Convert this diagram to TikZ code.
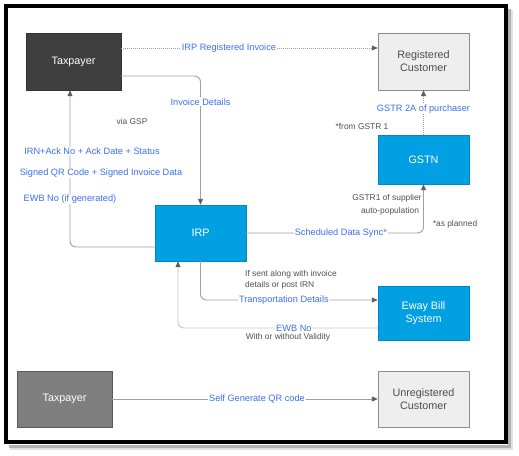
\documentclass[tikz,border=0pt]{standalone}
\usepackage{fontspec}
\setmainfont{Liberation Sans}
\usetikzlibrary{arrows.meta}
\definecolor{boxblue}{RGB}{0,160,227}
\definecolor{lblblue}{RGB}{60,110,240}
\definecolor{darkbox}{RGB}{63,63,63}
\definecolor{midbox}{RGB}{127,127,127}
\definecolor{lightbox}{RGB}{238,238,238}
\definecolor{linegray}{RGB}{160,160,160}
\definecolor{lightline}{RGB}{200,200,200}
\definecolor{tipgray}{RGB}{95,95,95}
\definecolor{notegray}{RGB}{80,80,80}
\begin{document}
\begin{tikzpicture}[x=1pt,y=-1pt,
  box/.style={rectangle, minimum width=91pt, inner sep=0pt, align=center,
    font=\fontsize{10.8}{13}\selectfont},
  bluebox/.style={box, fill=boxblue, draw=boxblue!85!black, text=white},
  greybox/.style={box, fill=lightbox, draw=black!45, text=black!70},
  darktp/.style={box, minimum width=95pt, fill=darkbox, draw=black!80, text=white},
  midtp/.style={box, minimum width=95pt, fill=midbox, draw=black!65, text=white},
  lbl/.style={font=\fontsize{9.2}{10.5}\selectfont, text=lblblue, fill=white, inner sep=1pt},
  note/.style={font=\fontsize{8.4}{10}\selectfont, text=notegray, inner sep=0pt},
  tip/.style={-{Triangle[length=6pt,width=5pt,color=tipgray]}},
  conn/.style={draw=linegray, line width=0.9pt, tip, rounded corners=6pt},
  dotconn/.style={draw=linegray, line width=0.8pt, tip, dash pattern=on 1pt off 1pt},
]
\useasboundingbox (0,0) rectangle (519,455);
% frame with shadow
\draw[line width=4pt, black!12] (511,10) -- (511,448) -- (10,448);
\draw[line width=3pt, black!30] (509,9) -- (509,446) -- (9,446);
\draw[line width=4pt, black, fill=white] (6,6) rectangle (506,442);

% boxes
\node[darktp, minimum height=57pt] (tp1) at (73.5,61.5) {Taxpayer};
\node[greybox, minimum height=57pt] (rc) at (423.5,61.5) {Registered\\Customer};
\node[bluebox, minimum height=49pt] (gstn) at (423.5,159.5) {GSTN};
\node[bluebox, minimum height=56pt] (irp) at (200.5,233) {IRP};
\node[bluebox, minimum height=54pt] (ewb) at (423.5,313) {Eway Bill\\System};
\node[midtp, minimum height=56pt] (tp2) at (64.5,399) {Taxpayer};
\node[greybox, minimum height=56pt] (uc) at (423.5,399) {Unregistered\\Customer};

% connectors
\draw[dotconn] ([yshift=13.5pt]tp1.east) -- ([yshift=13.5pt]rc.west)
  node[lbl, pos=0.42] (l1) {IRP Registered Invoice};
\draw[conn] ([yshift=-14.5pt]tp1.east) -| (irp.north)
  node[lbl, pos=0.6] (l2) {Invoice Details};
\draw[conn] ([yshift=-14pt]irp.west) -| ([xshift=-3.5pt]tp1.south);
\node[lbl] (l3) at (92,151) {IRN+Ack No + Ack Date + Status};
\node[lbl] (l4) at (101,173) {Signed QR Code + Signed Invoice Data};
\node[lbl] (l5) at (70,199) {EWB No (if generated)};
\node[note] (n1) at (132,121) {via GSP};

\draw[conn] (irp.east) -| (gstn.south)
  node[lbl, pos=0.267] (l6) {Scheduled Data Sync*};
\node[note] (n2) at (387,198) {GSTR1 of supplier};
\node[note] (n3) at (390,211) {auto-population};
\node[note] (n4) at (455,224) {*as planned};

\draw[dotconn] (gstn.north) -- (rc.south)
  node[lbl, pos=0.58] (l7) {GSTR 2A of purchaser};
\node[note] (n5) at (362,127) {*from GSTR 1};

\draw[conn] (irp.south) |- ([yshift=13pt]ewb.west)
  node[lbl, pos=0.735] (l8) {Transportation Details};
\node[note, anchor=west] (n6) at (245,274) {If sent along with invoice};
\node[note, anchor=west] (n7) at (245,285) {details or post IRN};

\draw[conn, draw=lightline] ([yshift=-15pt]ewb.west) -| ([xshift=-22.5pt]irp.south)
  node[lbl, pos=0.21] (l9) {EWB No};
\node[note] (n8) at (288,337.5) {With or without Validity};

\draw[conn] (tp2.east) -- (uc.west)
  node[lbl, pos=0.545] (l10) {Self Generate QR code};
\end{tikzpicture}
\end{document}
